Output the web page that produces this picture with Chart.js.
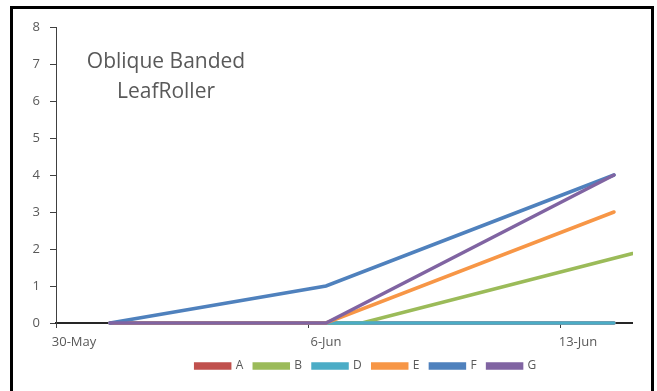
<!DOCTYPE html>
<html>
<head>
<meta charset="utf-8">
<title>Oblique Banded LeafRoller</title>
<script src="https://cdn.jsdelivr.net/npm/chart.js@4/dist/chart.umd.min.js"></script>
<style>
	body { margin: 0; background: #fff; }
	canvas { display: block; }
</style>
</head>
<body>
<canvas id="leafRollerChart" width="657" height="391"></canvas>
<script>
// Observation dates (one row per date, blanks are null)
const dates = ['31-May', '6-Jun', '7-Jun', '14-Jun', '15-Jun'];

const seriesA = [0, 0, null, 0, null];
const seriesB = [0, 0, 0, null, 2];
const seriesD = [0, 0, null, 0, null];
const seriesE = [0, 0, null, 3, null];
const seriesF = [0, 1, null, 4, null];
const seriesG = [0, 0, null, 4, null];

const seriesNames = ['A', 'B', 'D', 'E', 'F', 'G'];
const seriesColors = ['#C0504D', '#9BBB59', '#4BACC6', '#F79646', '#4F81BD', '#8064A2'];

const xTickLabels = ['30-May', '6-Jun', '13-Jun'];
const xRangeLabels = ['30-May', '14-Jun']; // first and last day bin on the axis
const yTicks = [0, 1, 2, 3, 4, 5, 6, 7, 8];

const titleLines = ['Oblique Banded', 'LeafRoller'];

// days from 30-May (start of that day's bin)
function dayStart(label) {

	const [d, mon] = label.split('-');

	return mon === 'May' ? Number(d) - 30 : Number(d) + 1;

}

// Excel date axis puts each point in the middle of its day
function dayCenter(label) {

	return dayStart(label) + 0.5;

}

function buildPoints(values) {

	const points = [];

	values.forEach((v, i) => {

		if (v !== null) points.push({ x: dayCenter(dates[i]), y: v });

	});

	return points;

}

const allSeries = [seriesA, seriesB, seriesD, seriesE, seriesF, seriesG];

const datasets = allSeries.map((values, i) => ({

	label: seriesNames[i],

	data: buildPoints(values),

	borderColor: seriesColors[i],

	backgroundColor: seriesColors[i],

	borderWidth: 3.5,

	pointRadius: 0,

	tension: 0,

	borderCapStyle: 'round',

	clip: { left: 2, top: 2, right: 1, bottom: 2 }, // keep the zero lines whole

	order: allSeries.length - i // later series drawn on top, like Excel

}));

const frame = {

	id: 'frame',

	beforeDraw(chart) {

		const ctx = chart.ctx;

		ctx.save();

		ctx.fillStyle = '#fff';

		ctx.fillRect(0, 0, chart.width, chart.height);

		ctx.restore();

	},

	afterDraw(chart) {

		const ctx = chart.ctx;

		ctx.save();

		ctx.strokeStyle = '#000';

		ctx.lineWidth = 3;

		ctx.strokeRect(11.5, 7.5, 641, 400);

		ctx.restore();

	}

};

const innerTitle = {

	id: 'innerTitle',

	afterDraw(chart) {

		const ctx = chart.ctx;

		const cx = chart.chartArea.left + 110;

		ctx.save();

		ctx.font = '21px "Open Sans"';

		ctx.fillStyle = '#595959';

		ctx.textAlign = 'center';

		ctx.textBaseline = 'alphabetic';

		titleLines.forEach((line, i) => ctx.fillText(line, cx, 68 + i * 30));

		ctx.restore();

	}

};

// Excel's legend sits a bit right of the canvas centre
const legendShift = {

	id: 'legendShift',

	afterLayout(chart) {

		chart.legend.left += 50;

		chart.legend.right += 50;

	}

};

const ctx = document.getElementById('leafRollerChart').getContext('2d');

new Chart(ctx, {

	type: 'line',

	data: { datasets: datasets },

	plugins: [frame, innerTitle, legendShift],

	options: {

		responsive: false,

		animation: false,

		devicePixelRatio: 1,

		layout: {

			padding: { left: 0, right: 25, top: 27, bottom: 9 }

		},

		plugins: {

			tooltip: { enabled: false },

			legend: {

				position: 'bottom',

				labels: {

					boxWidth: 34,

					boxHeight: 4,

					padding: 11,

					color: '#595959',

					font: { family: 'Open Sans', size: 12 },

					sort: (a, b) => a.datasetIndex - b.datasetIndex

				}

			}

		},

		scales: {

			x: {

				type: 'linear',

				min: dayStart(xRangeLabels[0]),

				max: dayStart(xRangeLabels[1]) + 1,

				afterBuildTicks: axis => {

					axis.ticks = xTickLabels.map(l => ({ value: dayStart(l) }));

				},

				afterFit: axis => { axis.height = 26; },

				grid: {

					drawOnChartArea: false,

					tickLength: 5,

					color: '#404040'

				},

				border: { color: '#262626', width: 2 },

				ticks: {

					padding: 6,

					labelOffset: 18,

					maxRotation: 0,

					color: '#595959',

					font: { family: 'Open Sans', size: 13 },

					callback: value => {

						const hit = xTickLabels.find(l => dayStart(l) === value);

						return hit || '';

					}

				}

			},

			y: {

				min: yTicks[0],

				max: yTicks[yTicks.length - 1],

				afterFit: axis => { axis.width = 56; },

				grid: {

					drawOnChartArea: false,

					tickLength: 6,

					color: '#404040'

				},

				border: { color: '#404040', width: 1 },

				ticks: {

					stepSize: 1,

					padding: 10,

					color: '#595959',

					font: { family: 'Open Sans', size: 13 }

				}

			}

		}

	}

});
</script>
</body>
</html>
